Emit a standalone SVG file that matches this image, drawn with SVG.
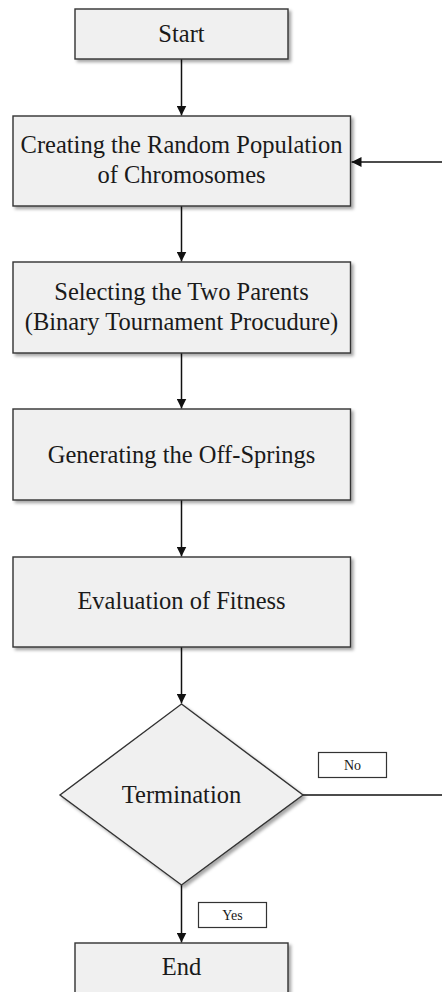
<svg xmlns="http://www.w3.org/2000/svg" width="442" height="992" viewBox="0 0 442 992">
<style>
.box{fill:#f0f0f0;stroke:#333;stroke-width:1.4;filter:url(#sh)}
.lbl{fill:#fff;stroke:#333;stroke-width:1.2}
.t{font-family:"Liberation Serif","Times New Roman",serif;font-size:24.5px;fill:#1a1a1a;text-anchor:middle}
.s{font-family:"Liberation Serif","Times New Roman",serif;font-size:14px;fill:#1a1a1a;text-anchor:middle}
.c{stroke:#111;stroke-width:1.5;fill:none}
</style>
<defs>
<filter id="sh" x="-5%" y="-5%" width="115%" height="120%">
<feDropShadow dx="2.5" dy="2.5" stdDeviation="1.5" flood-color="#000" flood-opacity="0.35"/>
</filter>
<marker id="ah" viewBox="0 0 10 10" refX="10" refY="5" markerWidth="10" markerHeight="10" markerUnits="userSpaceOnUse" orient="auto">
<path d="M0,0 L10,5 L0,10 Z" fill="#111"/>
</marker>
</defs>
<g id="connectors">
<line class="c" x1="181.5" y1="59" x2="181.5" y2="115.5" marker-end="url(#ah)"/>
<line class="c" x1="181.5" y1="206" x2="181.5" y2="261.5" marker-end="url(#ah)"/>
<line class="c" x1="181.5" y1="353" x2="181.5" y2="408.5" marker-end="url(#ah)"/>
<line class="c" x1="181.5" y1="500" x2="181.5" y2="556.5" marker-end="url(#ah)"/>
<line class="c" x1="181.5" y1="647" x2="181.5" y2="703.5" marker-end="url(#ah)"/>
<line class="c" x1="181.5" y1="885" x2="181.5" y2="942.5" marker-end="url(#ah)"/>
<polyline class="c" points="303,795 442,795"/>
<line class="c" x1="442" y1="162" x2="351.5" y2="162" marker-end="url(#ah)"/>
<g id="label-no"><rect class="lbl" x="318.5" y="752.5" width="68" height="25"/><text class="s" x="352.5" y="769.5">No</text></g>
<g id="label-yes"><rect class="lbl" x="198.5" y="902.5" width="68" height="25"/><text class="s" x="232.5" y="920">Yes</text></g>
</g>
<g id="start"><rect class="box" x="75" y="9" width="213" height="50"/><text class="t" x="181.5" y="42">Start</text></g>
<g id="create"><rect class="box" x="13" y="116" width="337.5" height="90"/><text class="t" x="181.5" y="153">Creating the Random Population</text><text class="t" x="181.5" y="183">of Chromosomes</text></g>
<g id="select"><rect class="box" x="13" y="262" width="337.5" height="91"/><text class="t" x="181.5" y="300">Selecting the Two Parents</text><text class="t" x="181.5" y="330">(Binary Tournament Procudure)</text></g>
<g id="generate"><rect class="box" x="13" y="409" width="337.5" height="91"/><text class="t" x="181.5" y="463">Generating the Off-Springs</text></g>
<g id="evaluate"><rect class="box" x="13" y="557" width="337.5" height="90"/><text class="t" x="181.5" y="609">Evaluation of Fitness</text></g>
<g id="termination"><polygon class="box" points="181.5,704 303,795 181.5,885 60,795"/><text class="t" x="181.5" y="803">Termination</text></g>
<g id="end"><rect class="box" x="75" y="943" width="213" height="60"/><text class="t" x="181.5" y="975">End</text></g>
</svg>
